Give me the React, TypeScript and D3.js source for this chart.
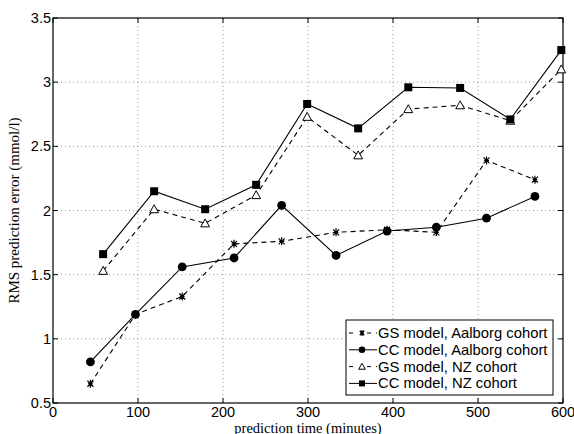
import React, { useEffect, useRef } from "react";
import * as d3 from "d3";

// prediction times (minutes) and RMS errors
const aalborgTimes = [44, 97, 152, 213, 269, 333, 393, 451, 510, 567];
const gsAalborg = [0.65, 1.19, 1.33, 1.74, 1.76, 1.83, 1.85, 1.83, 2.39, 2.24];
const ccAalborg = [0.82, 1.19, 1.56, 1.63, 2.04, 1.65, 1.84, 1.87, 1.94, 2.11];

const nzTimes = [59, 119, 179, 239, 299, 359, 418, 479, 538, 598];
const gsNZ = [1.53, 2.01, 1.9, 2.12, 2.73, 2.43, 2.79, 2.82, 2.7, 3.1];
const ccNZ = [1.66, 2.15, 2.01, 2.2, 2.83, 2.64, 2.96, 2.955, 2.71, 3.25];

const xTicks = [0, 100, 200, 300, 400, 500, 600];
const yTicks = [0.5, 1, 1.5, 2, 2.5, 3, 3.5];

const seriesList = [
  { name: "GS model, Aalborg cohort", x: aalborgTimes, y: gsAalborg, dashed: true, marker: "star" },
  { name: "CC model, Aalborg cohort", x: aalborgTimes, y: ccAalborg, dashed: false, marker: "circle" },
  { name: "GS model, NZ cohort", x: nzTimes, y: gsNZ, dashed: true, marker: "triangle" },
  { name: "CC model, NZ cohort", x: nzTimes, y: ccNZ, dashed: false, marker: "square" },
];

const drawMarker = (g: any, kind: string, cx: number, cy: number, s: number) => {
  if (kind === "circle") {
    g.append("circle").attr("cx", cx).attr("cy", cy).attr("r", s * 0.55).attr("fill", "#000");
  } else if (kind === "square") {
    g.append("rect").attr("x", cx - s / 2).attr("y", cy - s / 2)
      .attr("width", s).attr("height", s).attr("fill", "#000");
  } else if (kind === "triangle") {
    const h = s * 0.55;
    g.append("path")
      .attr("d", `M${cx},${cy - h}L${cx + h},${cy + h * 0.8}L${cx - h},${cy + h * 0.8}Z`)
      .attr("fill", "#fff").attr("stroke", "#000").attr("stroke-width", 1);
  } else {
    const r = s * 0.5;
    const d = r * 0.75;
    g.append("path")
      .attr("d", `M${cx},${cy - r}V${cy + r}M${cx - d},${cy - d}L${cx + d},${cy + d}M${cx - d},${cy + d}L${cx + d},${cy - d}M${cx - r * 0.6},${cy}H${cx + r * 0.6}`)
      .attr("stroke", "#000").attr("stroke-width", 1.2).attr("fill", "none");
  }
};

const App = () => {
  const ref = useRef<SVGSVGElement>(null);

  useEffect(() => {
    const svg = d3.select(ref.current);
    svg.selectAll("*").remove();

    const left = 53, right = 563, top = 18, bottom = 403;
    const x = d3.scaleLinear().domain([0, 600]).range([left, right]);
    const y = d3.scaleLinear().domain([0.5, 3.5]).range([bottom, top]);

    svg.append("rect").attr("width", 574).attr("height", 434).attr("fill", "#fff");

    // dotted grid
    const grid = svg.append("g").attr("stroke", "#9a9a9a").attr("stroke-dasharray", "1,3").attr("stroke-width", 1);
    xTicks.slice(1, -1).forEach(t => {
      grid.append("line").attr("x1", x(t)).attr("x2", x(t)).attr("y1", top).attr("y2", bottom);
    });
    yTicks.slice(1, -1).forEach(t => {
      grid.append("line").attr("x1", left).attr("x2", right).attr("y1", y(t)).attr("y2", y(t));
    });

    // box and inward ticks
    svg.append("rect").attr("x", left).attr("y", top).attr("width", right - left).attr("height", bottom - top)
      .attr("fill", "none").attr("stroke", "#000").attr("stroke-width", 1.2);
    const tk = svg.append("g").attr("stroke", "#000").attr("stroke-width", 1);
    xTicks.forEach(t => {
      tk.append("line").attr("x1", x(t)).attr("x2", x(t)).attr("y1", bottom).attr("y2", bottom - 5);
      tk.append("line").attr("x1", x(t)).attr("x2", x(t)).attr("y1", top).attr("y2", top + 5);
    });
    yTicks.forEach(t => {
      tk.append("line").attr("x1", left).attr("x2", left + 5).attr("y1", y(t)).attr("y2", y(t));
      tk.append("line").attr("x1", right).attr("x2", right - 5).attr("y1", y(t)).attr("y2", y(t));
    });

    const tickFont = "'Liberation Sans', Arial, sans-serif";
    svg.append("g").selectAll("text").data(xTicks).enter().append("text")
      .attr("x", d => x(d)).attr("y", 417).attr("text-anchor", "middle")
      .attr("font-family", tickFont).attr("font-size", 14.5).text(d => d);
    svg.append("g").selectAll("text").data(yTicks).enter().append("text")
      .attr("x", 51).attr("y", d => y(d) + 5).attr("text-anchor", "end")
      .attr("font-family", tickFont).attr("font-size", 14.5).text(d => d);

    const labelFont = "'Liberation Serif', 'Times New Roman', serif";
    svg.append("text").attr("x", 308).attr("y", 432.5).attr("text-anchor", "middle")
      .attr("font-family", labelFont).attr("font-size", 14.5).text("prediction time (minutes)");
    svg.append("text").attr("transform", `translate(19,${(top + bottom) / 2}) rotate(-90)`)
      .attr("text-anchor", "middle").attr("font-family", labelFont).attr("font-size", 15)
      .text("RMS prediction error (mmol/l)");

    // series
    const line = d3.line<[number, number]>().x(d => x(d[0])).y(d => y(d[1]));
    seriesList.forEach(s => {
      const pts = s.x.map((v, i) => [v, s.y[i]] as [number, number]);
      svg.append("path").attr("d", line(pts)).attr("fill", "none").attr("stroke", "#000")
        .attr("stroke-width", 1.1).attr("stroke-dasharray", s.dashed ? "5,4" : null);
      const mg = svg.append("g");
      pts.forEach(p => drawMarker(mg, s.marker, x(p[0]), y(p[1]), 8));
    });

    // legend
    const lg = svg.append("g");
    lg.append("rect").attr("x", 346).attr("y", 320).attr("width", 207).attr("height", 75)
      .attr("fill", "#fff").attr("stroke", "#000").attr("stroke-width", 1);
    seriesList.forEach((s, i) => {
      const cy = 333 + i * 16.8;
      lg.append("line").attr("x1", 349).attr("x2", 377).attr("y1", cy).attr("y2", cy)
        .attr("stroke", "#000").attr("stroke-width", 1).attr("stroke-dasharray", s.dashed ? "4,5" : null);
      if (s.dashed) {
        lg.append("rect").attr("x", 358).attr("y", cy - 4).attr("width", 8).attr("height", 8).attr("fill", "#fff");
      }
      drawMarker(lg, s.marker, 362, cy, 6);
      lg.append("text").attr("x", 378).attr("y", cy + 5).attr("font-family", tickFont)
        .attr("font-size", 14.8).text(s.name);
    });
  }, []);

  return <svg ref={ref} width={574} height={434} style={{ display: "block", position: "absolute", left: 0, top: 0 }} />;
};

export default App;
